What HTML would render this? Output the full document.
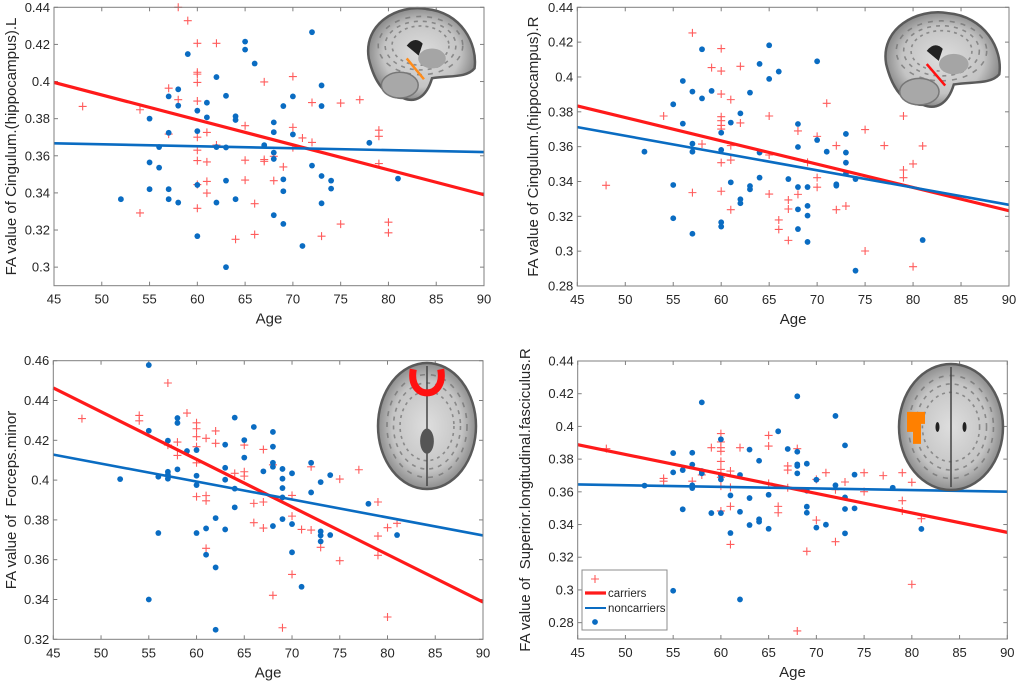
<!DOCTYPE html>
<html><head><meta charset="utf-8"><style>
html,body{margin:0;padding:0;background:#fff}
svg{display:block;font-family:"Liberation Sans",sans-serif}
text{white-space:pre}
</style></head>
<body>
<svg id="fig" width="1020" height="683" viewBox="0 0 1020 683" xmlns="http://www.w3.org/2000/svg">
<defs>
<radialGradient id="brainG" cx="50%" cy="50%" r="55%"><stop offset="0" stop-color="#dedede"/><stop offset="0.65" stop-color="#c4c4c4"/><stop offset="1" stop-color="#7a7a7a"/></radialGradient>
</defs>
</svg>
<script>
// ---------- Data (ages and FA values) ----------
const xTicks = [45,50,55,60,65,70,75,80,85,90];

const p1NonAge = [52,55,55,55,56,56,57,57,57,57,58,58,58,59,60,60,60,60,61,61,62,62,62,63,63,63,63,64,64,64,65,65,66,67,68,68,68,68,68,69,69,69,69,70,70,71,72,72,73,73,73,73,74,74,78,81];
const p1NonFA = [0.3366,0.380,0.3564,0.342,0.3647,0.3536,0.392,0.3724,0.342,0.3366,0.3958,0.387,0.3348,0.4148,0.3843,0.3733,0.3443,0.3167,0.3886,0.3807,0.4024,0.3647,0.3348,0.3923,0.3645,0.3466,0.30,0.3813,0.3793,0.3366,0.4215,0.4172,0.4097,0.3657,0.378,0.3727,0.3617,0.3583,0.328,0.3868,0.3473,0.3409,0.3233,0.392,0.3715,0.3114,0.4266,0.3547,0.3979,0.3868,0.3491,0.3344,0.3466,0.3423,0.367,0.3477];
const p1CarAge = [48,54,54,57,57,58,58,59,60,60,60,60,60,60,60,60,60,60,61,61,61,61,62,62,64,65,65,65,66,66,67,67,67,68,68,69,70,70,70,71,72,72,73,75,75,77,79,79,79,80,80];
const p1CarFA = [0.3866,0.3848,0.3292,0.3964,0.3717,0.44,0.3902,0.4328,0.4206,0.405,0.404,0.3995,0.3895,0.37,0.363,0.3574,0.3445,0.3317,0.3726,0.3567,0.3462,0.3399,0.4206,0.3658,0.315,0.3762,0.3576,0.3469,0.3342,0.3176,0.3998,0.358,0.357,0.3597,0.3466,0.354,0.4027,0.3753,0.3644,0.3696,0.3887,0.3672,0.3167,0.3884,0.3232,0.3902,0.3738,0.3705,0.3558,0.3242,0.3185];
const p1CarFit = [0.3995,0.339];
const p1NonFit = [0.3667,0.362];
const p1YTicks = [0.30,0.32,0.34,0.36,0.38,0.40,0.42,0.44];

const p2NonAge = [52,55,55,55,56,56,57,57,57,57,58,58,59,60,60,60,60,61,61,62,62,62,63,63,63,64,64,64,65,65,66,67,68,68,68,68,68,69,69,69,69,70,70,71,72,72,73,73,73,73,74,74,81];
const p2NonFA = [0.3571,0.3843,0.338,0.3189,0.3977,0.3732,0.3916,0.3617,0.3571,0.310,0.4159,0.3877,0.392,0.368,0.3581,0.3166,0.3141,0.3738,0.3395,0.3791,0.3298,0.3275,0.391,0.3374,0.3355,0.4075,0.3566,0.3422,0.4182,0.3989,0.4031,0.3414,0.373,0.3598,0.3368,0.324,0.3127,0.3368,0.326,0.3204,0.3053,0.409,0.3638,0.3571,0.3384,0.3376,0.3673,0.3566,0.3508,0.3445,0.3414,0.2888,0.3064];
const p2CarAge = [48,54,57,57,58,59,60,60,60,60,60,60,60,60,60,61,61,61,61,62,62,65,65,65,66,66,67,67,67,68,68,69,70,70,70,71,72,72,73,75,75,77,79,79,79,80,80,81];
const p2CarFA = [0.3378,0.3776,0.4253,0.3336,0.3615,0.4054,0.4163,0.4034,0.3902,0.3772,0.3749,0.3722,0.3701,0.3508,0.3344,0.387,0.3606,0.3523,0.3238,0.4061,0.3736,0.3776,0.3552,0.3328,0.3179,0.3125,0.3294,0.3242,0.3062,0.369,0.3326,0.351,0.3659,0.3422,0.3367,0.3849,0.3606,0.3238,0.3259,0.3698,0.3001,0.3606,0.3776,0.3466,0.3422,0.3501,0.2911,0.3604];
const p2CarFit = [0.3834,0.3232];
const p2NonFit = [0.3712,0.3266];
const p2YTicks = [0.28,0.30,0.32,0.34,0.36,0.38,0.40,0.42,0.44];

const p3NonAge = [52,55,55,55,56,56,57,57,57,57,58,58,58,59,60,60,60,60,61,61,62,62,62,63,63,63,63,64,64,64,65,65,66,67,68,68,68,68,68,69,69,69,69,69,70,70,70,71,72,72,73,73,73,73,74,74,78,81];
const p3NonFA = [0.4005,0.4578,0.4248,0.340,0.3734,0.4017,0.4198,0.4042,0.4027,0.4007,0.4312,0.4287,0.4054,0.4146,0.4151,0.4022,0.3975,0.3734,0.3757,0.3625,0.3809,0.3561,0.3248,0.4178,0.4062,0.4002,0.3752,0.4314,0.3957,0.3863,0.4201,0.4113,0.4267,0.4044,0.4242,0.4168,0.4087,0.4067,0.3769,0.4056,0.4007,0.396,0.3913,0.3804,0.4034,0.3779,0.3637,0.3464,0.4087,0.3938,0.399,0.3742,0.3722,0.3692,0.4025,0.3724,0.3881,0.3724];
const p3CarAge = [48,54,54,57,57,58,58,59,60,60,60,60,60,60,61,61,61,61,62,62,64,65,65,65,66,66,67,67,67,68,68,69,70,70,70,71,72,72,73,75,75,77,79,79,79,80,80,81];
const p3CarFA = [0.4309,0.4325,0.4298,0.4488,0.4176,0.4191,0.4124,0.4337,0.4288,0.4258,0.4218,0.4168,0.4087,0.3917,0.421,0.3922,0.3896,0.3657,0.4247,0.4185,0.4034,0.4176,0.4042,0.402,0.3883,0.3786,0.4154,0.389,0.3759,0.4077,0.3421,0.3258,0.3923,0.3819,0.3526,0.3752,0.4067,0.3749,0.3662,0.4005,0.3595,0.4052,0.389,0.3719,0.3622,0.3761,0.3312,0.3783];
const p3CarFit = [0.4463,0.3387];
const p3NonFit = [0.4128,0.3722];
const p3YTicks = [0.32,0.34,0.36,0.38,0.40,0.42,0.44,0.46];

const p4NonAge = [52,55,55,55,56,56,57,57,57,57,58,58,58,59,60,60,60,60,61,61,62,62,62,63,63,63,64,64,64,65,65,66,67,68,68,68,68,68,69,69,69,69,70,70,71,72,72,73,73,73,73,74,74,78,81];
const p4NonFA = [0.3638,0.3837,0.3719,0.2995,0.3733,0.3493,0.3839,0.3766,0.364,0.3623,0.4147,0.3727,0.3713,0.347,0.3921,0.3701,0.3676,0.347,0.3578,0.3348,0.3703,0.3478,0.2942,0.3858,0.3562,0.3397,0.379,0.3432,0.3417,0.3582,0.3374,0.397,0.3862,0.4184,0.3845,0.3768,0.3758,0.3713,0.3772,0.3607,0.3509,0.3472,0.3674,0.3381,0.3399,0.4064,0.364,0.3884,0.3566,0.3495,0.3346,0.3705,0.3499,0.3625,0.3373];
const p4CarAge = [48,54,54,57,58,59,60,60,60,60,60,60,60,60,60,61,61,61,61,62,65,65,65,66,66,67,67,67,68,68,69,70,70,71,72,72,73,75,75,77,79,79,79,80,80,81];
const p4CarFA = [0.3864,0.3682,0.3665,0.3665,0.3703,0.387,0.3956,0.3905,0.387,0.3848,0.3786,0.3737,0.3689,0.3635,0.3483,0.3727,0.3627,0.3511,0.3278,0.387,0.3945,0.388,0.3652,0.3511,0.3472,0.3758,0.3733,0.3625,0.3864,0.2749,0.3236,0.3676,0.3427,0.3717,0.3613,0.3295,0.366,0.3717,0.3601,0.3699,0.3717,0.3546,0.3483,0.3658,0.3034,0.3436];
const p4CarFit = [0.3888,0.3352];
const p4NonFit = [0.3645,0.3601];
const p4YTicks = [0.28,0.30,0.32,0.34,0.36,0.38,0.40,0.42,0.44];

// ---------- Rendering ----------
const NS = 'http://www.w3.org/2000/svg';
const svg = document.getElementById('fig');
function mk(tag, attrs, parent){
  const e = document.createElementNS(NS, tag);
  for (const k in attrs) e.setAttribute(k, attrs[k]);
  (parent||svg).appendChild(e);
  return e;
}
const BLUE = '#0a6cc2', RED = '#ff1a1a', CROSS = '#ff5c5c', AX = '#7f7f7f';

function panel(id, box, yMin, yMax, yTicks, ylabel, labelX){
  const g = mk('g', {});
  
  
  const sx = a => box.l + (a - 45) / 45 * (box.r - box.l);
  const sy = v => box.b - (v - yMin) / (yMax - yMin) * (box.b - box.t);
  const bg = mk('rect', {x:box.l, y:box.t, width:box.r-box.l, height:box.b-box.t, fill:'#fff'}, g);
  
  
  xTicks.forEach(t => {
    const x = sx(t);
    mk('line', {x1:x, x2:x, y1:box.b, y2:box.b-4, stroke:AX, 'stroke-width':1}, g);
    mk('line', {x1:x, x2:x, y1:box.t, y2:box.t+4, stroke:AX, 'stroke-width':1}, g);
    const tx = mk('text', {x:x, y:box.b+18, 'text-anchor':'middle', 'font-size':13, fill:'#262626'}, g);
    tx.textContent = t;
    
    
  });
  yTicks.forEach(t => {
    const y = sy(t);
    mk('line', {x1:box.l, x2:box.l+4, y1:y, y2:y, stroke:AX, 'stroke-width':1}, g);
    mk('line', {x1:box.r, x2:box.r-4, y1:y, y2:y, stroke:AX, 'stroke-width':1}, g);
    const ty = mk('text', {x:box.l-4, y:y+4.5, 'text-anchor':'end', 'font-size':13, fill:'#262626'}, g);
    ty.textContent = String(Number(t.toFixed(2)));
    
    
  });
  const xt = mk('text', {x:(box.l+box.r)/2, y:box.b+38, 'text-anchor':'middle', 'font-size':15, fill:'#262626'}, g);
  xt.textContent = 'Age';
  
  
  const cy = (box.t+box.b)/2;
  const yt = mk('text', {x:labelX, y:cy, 'text-anchor':'middle', 'font-size':15, fill:'#262626', transform:`rotate(-90 ${labelX} ${cy})`}, g);
  yt.textContent = ylabel;
  
  
  return {g, sx, sy, box};
}

function series(p, nonAge, nonFA, carAge, carFA, carFit, nonFit){
  const {g, sx, sy} = p;
  carAge.forEach((a,i) => {
    const x = sx(a), y = sy(carFA[i]);
    const c = mk('path', {d:`M${x-4} ${y}H${x+4}M${x} ${y-4}V${y+4}`, stroke:CROSS, 'stroke-width':1.1, fill:'none'}, g);
    
    
  });
  nonAge.forEach((a,i) => {
    const d = mk('circle', {cx:sx(a), cy:sy(nonFA[i]), r:2.9, fill:BLUE}, g);
    
    
  });
  const rl = mk('line', {x1:sx(45), y1:sy(carFit[0]), x2:sx(90), y2:sy(carFit[1]), stroke:RED, 'stroke-width':3.2}, g);
  
  
  const bl = mk('line', {x1:sx(45), y1:sy(nonFit[0]), x2:sx(90), y2:sy(nonFit[1]), stroke:BLUE, 'stroke-width':2.6}, g);
  
  
}
function frame(p){
  const b = p.box;
  const f = mk('rect', {x:b.l, y:b.t, width:b.r-b.l, height:b.b-b.t, fill:'none', stroke:AX, 'stroke-width':1}, p.g);
  
  
}

function folds(b, cx, cy, rx, ry, n){
  for (let k = 0; k < n; k++){
    const f = 0.55 + 0.4 * (k / n);
    mk('ellipse', {cx:cx, cy:cy, rx:rx*f, ry:ry*f, fill:'none', stroke:'#6e6e6e', 'stroke-width':1.6, 'stroke-dasharray':`${3+k} ${4+k}`, opacity:0.7}, b);
  }
}
function brainSag(g, x, y, w, h, tract){
  const b = mk('g', {}, g);
  
  
  mk('path', {d:`M${x+w*0.05} ${y+h*0.55} C${x} ${y+h*0.2} ${x+w*0.3} ${y} ${x+w*0.55} ${y+h*0.05} C${x+w*0.85} ${y+h*0.08} ${x+w} ${y+h*0.4} ${x+w*0.97} ${y+h*0.65} C${x+w*0.9} ${y+h*0.75} ${x+w*0.75} ${y+h*0.72} ${x+w*0.6} ${y+h*0.75} C${x+w*0.55} ${y+h*0.95} ${x+w*0.45} ${y+h*1.0} ${x+w*0.35} ${y+h*0.95} C${x+w*0.2} ${y+h*0.95} ${x+w*0.1} ${y+h*0.8} ${x+w*0.05} ${y+h*0.55}Z`, fill:'url(#brainG)', stroke:'#5a5a5a', 'stroke-width':2.5}, b);
  folds(b, x+w*0.5, y+h*0.42, w*0.45, h*0.36, 3);
  mk('ellipse', {cx:x+w*0.32, cy:y+h*0.82, rx:w*0.16, ry:h*0.13, fill:'#a8a8a8', stroke:'#777', 'stroke-width':1.5}, b);
  mk('path', {d:`M${x+w*0.38} ${y+h*0.42} q8 -10 16 -2 l-4 12z`, fill:'#222'}, b);
  mk('ellipse', {cx:x+w*0.6, cy:y+h*0.55, rx:w*0.12, ry:h*0.1, fill:'#a5a5a5'}, b);
  mk('line', {x1:x+w*0.38, y1:y+h*0.55, x2:x+w*0.53, y2:y+h*0.76, stroke:tract, 'stroke-width':2.5}, b);
}
function brainAx(g, x, y, w, h, kind){
  const b = mk('g', {}, g);
  
  
  mk('ellipse', {cx:x+w/2, cy:y+h/2, rx:w/2, ry:h/2, fill:'url(#brainG)', stroke:'#5a5a5a', 'stroke-width':2.5}, b);
  folds(b, x+w/2, y+h/2, w/2, h/2, 3);
  mk('line', {x1:x+w/2, y1:y+3, x2:x+w/2, y2:y+h-3, stroke:'#444', 'stroke-width':1.5}, b);
  if (kind === 'forceps'){
    mk('path', {d:`M${x+w*0.36} ${y+h*0.05} C${x+w*0.3} ${y+h*0.3} ${x+w*0.7} ${y+h*0.3} ${x+w*0.64} ${y+h*0.05}`, fill:'none', stroke:'#ff1010', 'stroke-width':7}, b);
    mk('ellipse', {cx:x+w*0.5, cy:y+h*0.62, rx:w*0.07, ry:h*0.1, fill:'#555'}, b);
  } else {
    mk('path', {d:`M${x+8} ${y+h*0.38} h18 v12 h-4 v20 h-8 v-12 h-6z`, fill:'#ff8000'}, b);
    mk('ellipse', {cx:x+w*0.37, cy:y+h*0.5, rx:2, ry:5, fill:'#222'}, b);
    mk('ellipse', {cx:x+w*0.63, cy:y+h*0.5, rx:2, ry:5, fill:'#222'}, b);
  }
}

const P1 = panel('panel-cingulum-hippocampus-left', {l:54, r:484, t:7.3, b:285.7}, 0.29, 0.44, p1YTicks, 'FA value of Cingulum.(hippocampus).L', 16);
series(P1, p1NonAge, p1NonFA, p1CarAge, p1CarFA, p1CarFit, p1NonFit);
brainSag(P1.g, 363, 4, 115, 99, '#ff8c1a');
frame(P1);

const P2 = panel('panel-cingulum-hippocampus-right', {l:577.3, r:1009, t:7.3, b:286}, 0.28, 0.44, p2YTicks, 'FA value of Cingulum.(hippocampus).R', 538);
series(P2, p2NonAge, p2NonFA, p2CarAge, p2CarFA, p2CarFit, p2NonFit);
brainSag(P2.g, 880, 8, 123, 102, '#ff1010');
frame(P2);

const P3 = panel('panel-forceps-minor', {l:53.3, r:483, t:360.7, b:639.3}, 0.32, 0.46, p3YTicks, 'FA value of  Forceps.minor', 16);
series(P3, p3NonAge, p3NonFA, p3CarAge, p3CarFA, p3CarFit, p3NonFit);
brainAx(P3.g, 378, 363, 98, 126, 'forceps');
frame(P3);

const P4 = panel('panel-superior-longitudinal-fasciculus-right', {l:577.7, r:1007.3, t:361, b:639}, 0.27, 0.44, p4YTicks, 'FA value of  Superior.longitudinal.fasciculus.R', 530);
series(P4, p4NonAge, p4NonFA, p4CarAge, p4CarFA, p4CarFit, p4NonFit);
brainAx(P4.g, 899, 364, 104, 126, 'slf');
frame(P4);

// legend
const L = mk('g', {});


mk('rect', {x:582, y:570, width:85, height:60, fill:'#fff', stroke:'#8c8c8c', 'stroke-width':1}, L);
mk('path', {d:'M591 579H599M595 575V583', stroke:CROSS, 'stroke-width':1.1}, L);
mk('line', {x1:585, x2:606, y1:593, y2:593, stroke:RED, 'stroke-width':3.2}, L);
const lt1 = mk('text', {x:608, y:597, 'font-size':11.5, fill:'#262626'}, L);
lt1.textContent = 'carriers';


mk('line', {x1:585, x2:606, y1:608, y2:608, stroke:BLUE, 'stroke-width':2}, L);
const lt2 = mk('text', {x:608, y:612, 'font-size':11.5, fill:'#262626'}, L);
lt2.textContent = 'noncarriers';


mk('circle', {cx:595, cy:622, r:2.9, fill:BLUE}, L);
</script>
</body></html>
